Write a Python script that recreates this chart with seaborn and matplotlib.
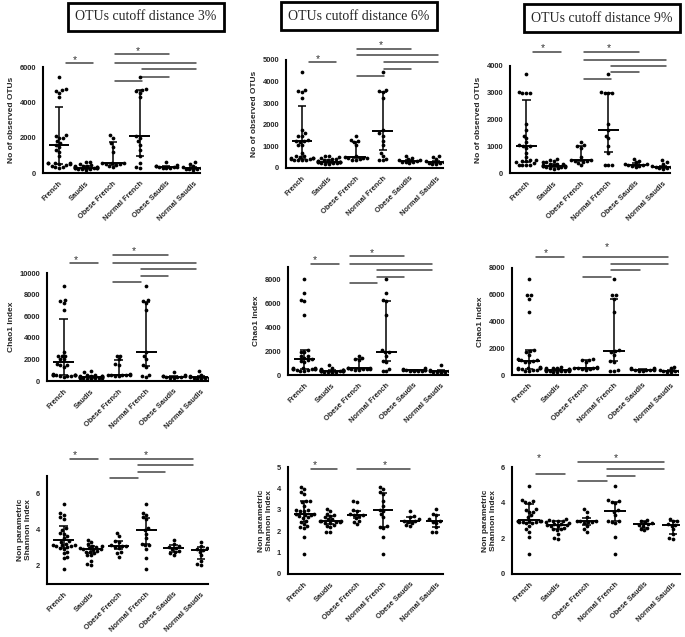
import numpy as np
import pandas as pd
import seaborn as sns
import matplotlib.pyplot as plt
from matplotlib.transforms import blended_transform_factory

groups = ["French", "Saudis", "Obese French", "Normal French", "Obese Saudis", "Normal Saudis"]
titles = ["OTUs cutoff distance 3%", "OTUs cutoff distance 6%", "OTUs cutoff distance 9%"]
row_labels = ["No of observed OTUs", "Chao1 Index", "Non parametric\nShannon Index"]

# --- observed OTUs, 3% ---
otu3_obf = [2150, 2000, 1700, 1500, 1200, 560, 550, 540, 530, 520, 480, 420, 350]
otu3_nof = [5440, 4750, 4700, 4650, 4550, 4300, 2100, 2000, 1800, 1600, 1300, 950, 550, 350, 300]
otu3_obs = [650, 450, 400, 380, 350, 340, 320, 300, 280, 260]
otu3_nos = [600, 500, 400, 320, 300, 280, 250, 220, 200, 180]
otu3_med = [1600, 300, 540, 2100, 340, 270]
otu3_q1 = [500, 250, 480, 975, 300, 220]
otu3_q3 = [3750, 380, 1750, 4700, 400, 330]

# --- observed OTUs, 6% ---
otu6_obf = [1500, 1300, 1250, 1200, 1050, 550, 500, 480, 470, 450, 400, 380, 350]
otu6_nof = [4450, 3600, 3550, 3500, 3250, 1750, 1600, 1500, 1250, 1050, 700, 550, 400, 380, 350]
otu6_obs = [550, 450, 400, 380, 350, 330, 300, 280, 260, 240]
otu6_nos = [550, 500, 420, 320, 300, 280, 250, 220, 200, 180]
otu6_med = [1250, 300, 500, 1720, 340, 290]
otu6_q1 = [430, 250, 450, 850, 290, 220]
otu6_q3 = [2880, 380, 1200, 3500, 380, 330]

# --- observed OTUs, 9% ---
otu9_obf = [1150, 1050, 1000, 950, 600, 480, 470, 460, 450, 420, 380, 300]
otu9_nof = [3700, 3020, 3000, 3000, 2990, 1850, 1620, 1400, 1300, 1000, 750, 300, 300, 300]
otu9_obs = [520, 450, 400, 350, 330, 310, 300, 280, 250, 220]
otu9_nos = [480, 400, 350, 280, 250, 230, 220, 200, 180, 160]
otu9_med = [1000, 270, 480, 1620, 310, 230]
otu9_q1 = [420, 220, 430, 770, 270, 190]
otu9_q3 = [2720, 330, 1000, 3000, 360, 280]

# --- Chao1, 3% ---
chao3_obf = [2350, 2300, 2000, 1600, 1500, 650, 600, 580, 560, 550, 520, 500, 450]
chao3_nof = [8800, 7500, 7400, 7200, 6600, 2700, 2300, 2000, 1500, 1300, 600, 450, 350]
chao3_obs = [800, 550, 500, 450, 420, 400, 380, 350, 320, 300]
chao3_nos = [900, 600, 450, 400, 350, 320, 300, 250, 200, 150]
chao3_med = [1800, 380, 600, 2650, 410, 335]
chao3_q1 = [550, 300, 520, 1350, 350, 250]
chao3_q3 = [5700, 450, 1950, 7300, 480, 420]

# --- Chao1, 6% ---
chao6_obf = [1600, 1450, 1300, 1250, 600, 560, 550, 540, 520, 500, 480, 450, 400]
chao6_nof = [8000, 6800, 6250, 6200, 5000, 2050, 1950, 1900, 1600, 1200, 1100, 500, 320, 300]
chao6_obs = [550, 480, 450, 420, 400, 380, 360, 350, 330, 300]
chao6_nos = [800, 450, 400, 350, 330, 300, 280, 250, 230, 200]
chao6_med = [1300, 350, 560, 1950, 390, 315]
chao6_q1 = [500, 290, 500, 1150, 350, 250]
chao6_q3 = [2050, 420, 1300, 6200, 440, 380]

# --- Chao1, 9% ---
chao9_obf = [1200, 1150, 1100, 1000, 600, 560, 540, 520, 500, 480, 450, 400]
chao9_nof = [7200, 6000, 5950, 5700, 4700, 1850, 1800, 1700, 1500, 1050, 1000, 400, 320, 300]
chao9_obs = [550, 500, 450, 420, 400, 380, 360, 350, 330, 300]
chao9_nos = [600, 500, 420, 380, 350, 320, 300, 280, 250, 220]
chao9_med = [1050, 360, 540, 1800, 390, 335]
chao9_q1 = [480, 300, 480, 1050, 350, 280]
chao9_q3 = [1850, 420, 1100, 5650, 440, 400]

# --- Shannon, 3% ---
sh3_obf = [3.85, 3.65, 3.4, 3.35, 3.15, 3.1, 3.1, 3.05, 3.0, 2.8, 2.7, 2.5]
sh3_nof = [5.45, 4.95, 4.85, 4.7, 4.6, 4.1, 4.0, 3.8, 3.55, 3.25, 3.15, 3.15, 2.95, 2.45, 1.85]
sh3_obs = [3.45, 3.2, 3.1, 3.05, 3.0, 2.95, 2.85, 2.8, 2.7, 2.6]
sh3_nos = [3.35, 3.1, 3.0, 2.95, 2.9, 2.8, 2.6, 2.3, 2.1, 2.05]
sh3_med = [3.42, 2.95, 3.12, 4.02, 3.0, 2.88]
sh3_q1 = [3.0, 2.75, 2.95, 3.2, 2.8, 2.4]
sh3_q3 = [4.2, 3.1, 3.4, 4.65, 3.15, 3.05]

# --- Shannon, 6% ---
sh6_obf = [3.4, 3.35, 3.0, 2.95, 2.8, 2.75, 2.75, 2.7, 2.6, 2.5, 2.45, 2.35]
sh6_nof = [4.05, 3.95, 3.85, 3.75, 3.4, 3.2, 3.0, 2.95, 2.8, 2.65, 2.25, 2.2, 2.15, 1.75, 0.95]
sh6_obs = [2.95, 2.7, 2.65, 2.55, 2.5, 2.5, 2.45, 2.4, 2.3, 2.25]
sh6_nos = [3.05, 2.8, 2.75, 2.55, 2.5, 2.45, 2.4, 2.2, 1.95, 1.95]
sh6_med = [2.8, 2.5, 2.78, 3.0, 2.5, 2.5]
sh6_q1 = [2.45, 2.35, 2.6, 2.2, 2.4, 2.2]
sh6_q3 = [3.4, 2.7, 2.95, 3.8, 2.65, 2.75]

# --- Shannon, 9% ---
sh9_obf = [3.65, 3.5, 3.2, 3.0, 2.95, 2.95, 2.9, 2.9, 2.85, 2.7, 2.5, 2.35]
sh9_nof = [4.95, 4.15, 4.1, 4.05, 4.0, 3.6, 3.5, 3.3, 3.0, 2.95, 2.9, 2.85, 2.05, 1.1]
sh9_obs = [3.05, 3.0, 2.9, 2.85, 2.8, 2.75, 2.7, 2.6, 2.55, 2.45]
sh9_nos = [3.1, 3.0, 2.95, 2.8, 2.75, 2.7, 2.5, 2.25, 2.0, 1.95]
sh9_med = [3.05, 2.75, 2.95, 3.55, 2.78, 2.72]
sh9_q1 = [2.85, 2.5, 2.75, 2.95, 2.6, 2.25]
sh9_q3 = [3.9, 2.95, 3.15, 4.05, 2.95, 2.95]

# significance brackets: (group a, group b, height as axes fraction)
br_otu3 = [(0, 1, 1.04), (2, 4, 1.125), (2, 5, 1.04), (3, 5, 0.985), (3, 4, 0.91), (2, 3, 0.866)]
br_otu6 = [(0, 1, 0.978), (2, 4, 1.10), (2, 5, 1.046), (3, 5, 0.978), (3, 4, 0.92), (2, 3, 0.855)]
br_otu9 = [(0, 1, 1.13), (2, 4, 1.13), (2, 5, 1.06), (3, 5, 1.0), (3, 4, 0.944), (2, 3, 0.88)]
br_chao3 = [(0, 1, 1.093), (2, 4, 1.17), (2, 5, 1.093), (3, 5, 1.037), (3, 4, 0.975), (2, 3, 0.916)]
br_chao6 = [(0, 1, 1.028), (2, 4, 1.10), (2, 5, 1.03), (3, 5, 0.975), (3, 4, 0.907), (2, 3, 0.85)]
br_chao9 = [(0, 1, 1.10), (2, 5, 1.10), (3, 5, 1.04), (3, 4, 0.978), (2, 3, 0.916)]
br_sh3 = [(0, 1, 1.154), (2, 5, 1.154), (3, 5, 1.10), (3, 4, 1.034), (2, 3, 0.978)]
br_sh6 = [(0, 1, 0.985), (2, 4, 0.985)]
br_sh9 = [(0, 1, 0.93), (2, 5, 1.044), (3, 5, 0.984), (3, 4, 0.92), (2, 3, 0.866)]
# star marks: (x in category units, height as axes fraction)
st_otu3 = [(0.6, 1.07), (2.95, 1.15)]
st_otu6 = [(0.6, 1.01), (2.95, 1.14)]
st_otu9 = [(0.6, 1.17), (3.0, 1.17)]
st_chao3 = [(0.45, 1.12), (2.55, 1.20)]
st_chao6 = [(0.4, 1.06), (2.45, 1.13)]
st_chao9 = [(0.6, 1.14), (2.75, 1.20)]
st_sh3 = [(0.4, 1.19), (3.0, 1.19)]
st_sh6 = [(0.4, 1.02), (3.05, 1.02)]
st_sh9 = [(0.35, 1.08), (3.0, 1.08)]

panels = [
    (otu3_obf, otu3_nof, otu3_obs, otu3_nos, otu3_med, otu3_q1, otu3_q3, br_otu3, st_otu3),
    (otu6_obf, otu6_nof, otu6_obs, otu6_nos, otu6_med, otu6_q1, otu6_q3, br_otu6, st_otu6),
    (otu9_obf, otu9_nof, otu9_obs, otu9_nos, otu9_med, otu9_q1, otu9_q3, br_otu9, st_otu9),
    (chao3_obf, chao3_nof, chao3_obs, chao3_nos, chao3_med, chao3_q1, chao3_q3, br_chao3, st_chao3),
    (chao6_obf, chao6_nof, chao6_obs, chao6_nos, chao6_med, chao6_q1, chao6_q3, br_chao6, st_chao6),
    (chao9_obf, chao9_nof, chao9_obs, chao9_nos, chao9_med, chao9_q1, chao9_q3, br_chao9, st_chao9),
    (sh3_obf, sh3_nof, sh3_obs, sh3_nos, sh3_med, sh3_q1, sh3_q3, br_sh3, st_sh3),
    (sh6_obf, sh6_nof, sh6_obs, sh6_nos, sh6_med, sh6_q1, sh6_q3, br_sh6, st_sh6),
    (sh9_obf, sh9_nof, sh9_obs, sh9_nos, sh9_med, sh9_q1, sh9_q3, br_sh9, st_sh9),
]

# axes boxes in pixels: left, right, top, bottom ; y limits ; y ticks ; bracket x shift
W, H = 685, 637
layout = [
    ((43, 200, 67, 173), (0, 6000), np.arange(0, 6001, 2000), 0.1),
    ((286, 443, 60, 168), (0, 5000), np.arange(0, 5001, 1000), 0.05),
    ((510, 670, 66, 173), (0, 4000), np.arange(0, 4001, 1000), 0.1),
    ((47, 208, 273, 381), (0, 10000), np.arange(0, 10001, 2000), -0.2),
    ((288, 448, 267, 375), (0, 9000), np.arange(0, 8001, 2000), -0.35),
    ((512, 678, 268, 375), (0, 8000), np.arange(0, 8001, 2000), -0.1),
    ((47, 208, 476, 584), (1, 7), [2, 4, 6], -0.3),
    ((288, 443, 467, 574), (0, 5), np.arange(0, 6), 0.0),
    ((512, 680, 467, 574), (0, 6), [0, 2, 4, 6], -0.3),
]

sns.set_theme(style="white")
plt.rcParams['font.family'] = ['Liberation Sans', 'DejaVu Sans']
fig = plt.figure(figsize=(W / 100, H / 100), dpi=100)

for i, (pan, lay) in enumerate(zip(panels, layout)):
    obf, nof, obs, nos, med, q1, q3, brackets, stars = pan
    (x0, x1, yt, yb), ylim, yticks, shift = lay
    ax = fig.add_axes([x0 / W, 1 - yb / H, (x1 - x0) / W, (yb - yt) / H])

    values = {
        "French": obf + nof,
        "Saudis": obs + nos,
        "Obese French": obf,
        "Normal French": nof,
        "Obese Saudis": obs,
        "Normal Saudis": nos,
    }
    df = pd.DataFrame([(g, v) for g in groups for v in values[g]], columns=["group", "value"])
    ax.set_xlim(-0.6, 5.25)
    ax.set_ylim(*ylim)
    sns.swarmplot(data=df, x="group", y="value", order=groups, color="black",
                  size=2.7, ax=ax, warn_thresh=1)
    ax.set_xlim(-0.6, 5.25)
    ax.set_ylim(*ylim)

    pos = np.arange(len(groups))
    ax.hlines(med, pos - 0.38, pos + 0.38, color="black", lw=1.4, zorder=3)
    ax.vlines(pos, q1, q3, color="black", lw=1.1, zorder=3)
    ax.hlines(q1, pos - 0.15, pos + 0.15, color="black", lw=1.1, zorder=3)
    ax.hlines(q3, pos - 0.15, pos + 0.15, color="black", lw=1.1, zorder=3)

    trans = blended_transform_factory(ax.transData, ax.transAxes)
    for a, b, h in brackets:
        s = 0.25 if a == 0 else shift
        ax.plot([a + s, b + s], [h, h], color="#444444", lw=1.1,
                transform=trans, clip_on=False)
    for sx, sy in stars:
        ax.text(sx, sy, "*", transform=trans, ha="center", va="center",
                fontsize=7.5, color="#333333")

    ax.set_yticks(yticks)
    ax.set_xticks(pos)
    ax.set_xticklabels(groups, rotation=45, ha="right", rotation_mode="anchor",
                       fontsize=5.4, fontweight="bold")
    for lab in ax.get_yticklabels():
        lab.set_fontweight("bold")
        lab.set_fontsize(5.4)
    ax.set_xlabel("")
    ax.set_ylabel(row_labels[i // 3], fontsize=6, fontweight="bold", labelpad=3)
    ax.tick_params(axis="both", direction="out", length=3, width=1.2, color="black", pad=2)
    sns.despine(ax=ax)
    for sp in ["left", "bottom"]:
        ax.spines[sp].set_color("black")
        ax.spines[sp].set_linewidth(1.5)

# boxed column titles
for cx, cy, t in zip([146, 359, 602], [17, 16, 18], titles):
    fig.text(cx / W, 1 - cy / H, t, ha="center", va="center", fontsize=10,
             family="Liberation Serif",
             bbox=dict(boxstyle="square,pad=0.55", fc="white", ec="black", lw=2))

fig.savefig("out.png", dpi=100)
